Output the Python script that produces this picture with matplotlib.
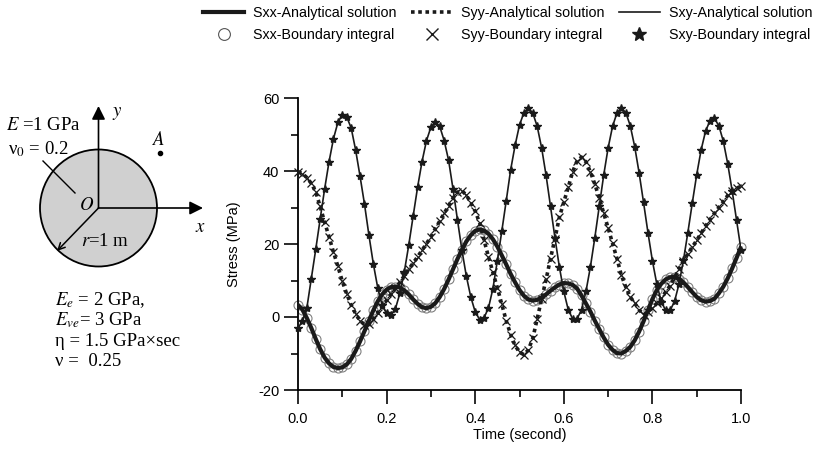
import numpy as np
import matplotlib.pyplot as plt
from matplotlib.patches import Circle
from matplotlib.lines import Line2D

plt.rcParams['font.family'] = ['Liberation Sans', 'DejaVu Sans']
plt.rcParams['mathtext.fontset'] = 'stix'
plt.rcParams['axes.unicode_minus'] = False

# time grid of the solution (second), one sample every 0.01 s
time = np.linspace(0, 1, 101)

# stresses at point A (MPa)
sxx = [3.3, 2.0, -0.3, -3.0, -6.0, -8.8, -11.1, -12.7, -13.7, -14.0,
       -13.8, -13.0, -11.5, -9.3, -6.7, -3.9, -1.0, 1.8, 4.3, 6.2,
       7.5, 8.2, 8.3, 8.1, 7.3, 6.2, 4.8, 3.6, 2.7, 2.4,
       2.8, 3.8, 5.5, 7.7, 10.3, 13.1, 15.9, 18.4, 20.7, 22.4,
       23.6, 24.0, 23.7, 22.8, 21.3, 19.3, 16.9, 14.4, 11.8, 9.5,
       7.4, 5.8, 4.8, 4.5, 4.7, 5.3, 6.2, 7.2, 8.1, 8.9,
       9.3, 9.2, 8.8, 7.8, 5.9, 3.7, 1.5, -1.0, -3.3, -5.6,
       -7.6, -9.0, -9.9, -10.0, -9.3, -8.2, -6.4, -4.0, -1.2, 1.9,
       4.9, 7.4, 9.1, 10.3, 10.9, 11.0, 10.5, 9.5, 8.2, 6.8,
       5.5, 4.6, 4.2, 4.4, 5.0, 6.5, 8.3, 10.6, 13.3, 16.2,
       19.2]
syy = [39.8, 39.3, 38.2, 36.6, 34.3, 30.3, 26.0, 22.0, 17.8, 13.9,
       9.8, 6.3, 3.3, 0.9, -1.0, -2.1, -2.0, -0.6, 1.1, 2.8,
       4.6, 6.3, 7.9, 9.5, 11.3, 13.1, 14.8, 16.5, 18.3, 20.1,
       22.0, 24.2, 26.3, 28.4, 30.5, 32.6, 34.2, 34.6, 33.4, 31.3,
       29.0, 25.8, 21.0, 16.5, 12.2, 8.0, 3.5, -1.0, -4.8, -7.8,
       -9.7, -10.3, -9.0, -5.8, -0.5, 5.0, 10.3, 16.0, 21.5, 27.3,
       31.5, 35.5, 39.8, 42.8, 43.8, 42.5, 39.8, 36.4, 32.6, 28.5,
       24.4, 20.2, 16.0, 11.4, 8.2, 5.5, 3.8, 2.0, 0.6, 1.4,
       2.5, 3.7, 5.2, 6.9, 8.6, 10.8, 13.2, 15.3, 17.3, 19.2,
       21.0, 23.0, 24.9, 26.7, 28.4, 30.0, 31.6, 33.3, 34.6, 35.3,
       35.8]
sxy = [-3.0, -1.2, 2.5, 10.5, 18.5, 26.8, 35.0, 42.5, 48.8, 53.3,
       55.4, 54.8, 51.8, 45.8, 38.6, 31.0, 22.5, 14.6, 8.0, 3.2,
       1.0, 0.5, 2.3, 6.5, 12.4, 19.7, 27.7, 35.6, 42.6, 48.3,
       52.0, 53.5, 52.2, 48.3, 42.9, 35.0, 26.6, 18.3, 11.2, 5.5,
       1.4, -0.7, -0.2, 2.5, 7.8, 15.4, 23.5, 31.8, 40.3, 47.0,
       52.6, 56.0, 57.2, 55.9, 52.2, 46.3, 38.8, 30.3, 21.7, 13.7,
       7.0, 2.0, -0.5, -0.5, 2.0, 7.0, 13.7, 21.7, 30.3, 38.8,
       46.3, 52.2, 55.9, 57.2, 56.0, 52.4, 46.7, 39.5, 31.4, 23.1,
       15.4, 9.0, 4.2, 1.8, 1.8, 4.3, 9.0, 15.5, 23.1, 31.2,
       39.0, 45.8, 50.9, 53.8, 54.4, 52.4, 48.2, 42.0, 34.6, 26.5,
       18.4]

legend_labels = ['Sxx-Analytical solution', 'Sxx-Boundary integral',
                 'Syy-Analytical solution', 'Syy-Boundary integral',
                 'Sxy-Analytical solution', 'Sxy-Boundary integral']

W, H = 817, 450
fig = plt.figure(figsize=(W / 100, H / 100), dpi=100)

# sketch of the disc, drawn in pixel units
axd = fig.add_axes([0, 0, 1, 1], zorder=0)
axd.set_xlim(0, W)
axd.set_ylim(H, 0)
axd.axis('off')
serif = ['Liberation Serif', 'DejaVu Serif']
axd.add_patch(Circle((98.5, 208), 58.5, fc='#d0d0d0', ec='black', lw=1.3))
head = dict(arrowstyle='-|>', color='black', lw=1.2, mutation_scale=20,
            shrinkA=0, shrinkB=0)
axd.annotate('', xy=(98.5, 106), xytext=(98.5, 208), arrowprops=head)
axd.annotate('', xy=(203, 208), xytext=(98.5, 208), arrowprops=head)
axd.annotate('', xy=(57, 251), xytext=(98.5, 208),
             arrowprops=dict(arrowstyle='->', color='black', lw=1.1,
                             mutation_scale=12, shrinkA=0, shrinkB=0))
axd.plot([43, 75], [161, 193], color='black', lw=1.0)
axd.plot([160], [153], 'o', color='black', ms=3)
fs = 13.5
axd.text(6, 126, '$E$ =1 GPa', family=serif, fontsize=fs, va='center')
axd.text(8, 149, 'ν$_0$ = 0.2', family=serif, fontsize=fs, va='center')
axd.text(117, 113, '$y$', fontsize=fs, va='center', ha='center')
axd.text(200, 228, '$x$', fontsize=fs, va='center', ha='center')
axd.text(87, 206, '$O$', fontsize=fs, va='center', ha='center')
axd.text(159, 140, '$A$', fontsize=fs, va='center', ha='center')
axd.text(81, 242, '$r$=1 m', family=serif, fontsize=fs, va='center')
axd.text(55, 300, '$E_e$ = 2 GPa,', family=serif, fontsize=fs, va='center')
axd.text(55, 320, '$E_{ve}$= 3 GPa', family=serif, fontsize=fs, va='center')
axd.text(55, 341, 'η = 1.5 GPa×sec', family=serif, fontsize=fs, va='center')
axd.text(55, 362, 'ν =  0.25', family=serif, fontsize=fs, va='center')

# stress history
ax = fig.add_axes([298 / W, 1 - 390 / H, 443 / W, 292 / H], zorder=1)
ax.patch.set_alpha(0)
ink = '#1a1a1a'
ax.plot(time, sxx, ls='none', marker='o', ms=6.5, mfc='none', mec='#808080',
        mew=0.8, zorder=2, clip_on=False)
ax.plot(time, sxx, color=ink, lw=3.0, zorder=3, solid_capstyle='round')
ax.plot(time, syy, color=ink, lw=2.6, ls=(0, (1, 1)), zorder=3)
ax.plot(time, syy, ls='none', marker='x', ms=6, mec=ink, mew=0.9, zorder=4,
        clip_on=False)
ax.plot(time, sxy, color=ink, lw=1.2, zorder=3)
ax.plot(time, sxy, ls='none', marker='*', ms=6, color=ink, zorder=4,
        clip_on=False)

ax.set_xlim(0, 1)
ax.set_ylim(-20, 60)
ax.spines[['top', 'right']].set_visible(False)
ax.spines[['left', 'bottom']].set_linewidth(1.3)
ax.set_xticks([0, 0.2, 0.4, 0.6, 0.8, 1.0])
ax.set_xticks([0.1, 0.3, 0.5, 0.7, 0.9], minor=True)
ax.set_yticks([-20, 0, 20, 40, 60])
ax.set_yticks([-10, 10, 30, 50], minor=True)
ax.xaxis.set_major_formatter('{x:.1f}')
ax.tick_params(which='major', direction='out', length=10, width=1.3,
               labelsize=10.5, color=ink)
ax.tick_params(which='minor', direction='out', length=5, width=1.3, color=ink)
ax.tick_params(axis='y', which='major', pad=3.5)
ax.tick_params(axis='x', which='major', pad=6)
ax.set_xlabel('Time (second)', fontsize=10.5, labelpad=1)
ax.set_ylabel('Stress (MPa)', fontsize=10.5, labelpad=12)

handles = [Line2D([], [], color=ink, lw=3.0),
           Line2D([], [], ls='none', marker='o', ms=8.5, mfc='none',
                  mec='#555555', mew=0.8),
           Line2D([], [], color=ink, lw=2.6, ls=(0, (1, 1))),
           Line2D([], [], ls='none', marker='x', ms=9, mec=ink, mew=1.0),
           Line2D([], [], color=ink, lw=1.2),
           Line2D([], [], ls='none', marker='*', ms=10, color=ink)]
fig.legend(handles, legend_labels, ncol=3, loc='upper left',
           bbox_to_anchor=(203 / W, 1 - 6 / H), frameon=False, fontsize=10.3,
           handlelength=2.9, handletextpad=0.6, columnspacing=1.0,
           labelspacing=0.55, borderpad=0, borderaxespad=0)

fig.savefig('out.png', dpi=100)
